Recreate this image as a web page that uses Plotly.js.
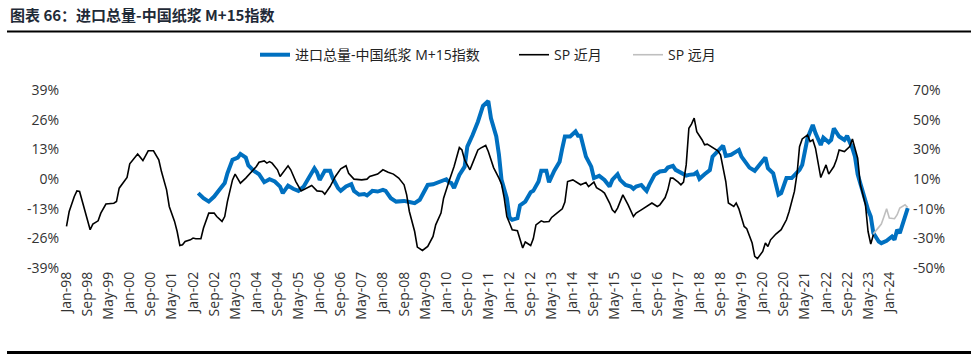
<!DOCTYPE html>
<html>
<head>
<meta charset="utf-8">
<script src="https://cdn.plot.ly/plotly-3.0.1.min.js"></script>
<style>html,body{margin:0;padding:0;background:#fff;}#chart{width:971px;height:362px;}</style>
</head>
<body>
<div id="chart"></div>
<script>
// ---- Data ----
const importDates = ['2002-03','2002-05','2002-07','2002-09','2002-11','2003-01','2003-02','2003-04','2003-06','2003-07','2003-09','2003-10','2003-12','2004-02','2004-04','2004-06','2004-08','2004-10','2004-11','2005-01','2005-03','2005-05','2005-07','2005-09','2005-11','2005-12','2006-01','2006-03','2006-05','2006-06','2006-08','2006-09','2006-11','2007-01','2007-02','2007-04','2007-06','2007-07','2007-09','2007-11','2008-01','2008-02','2008-04','2008-06','2008-08','2008-09','2008-11','2009-01','2009-03','2009-05','2009-06','2009-08','2009-10','2009-11','2010-01','2010-02','2010-03','2010-04','2010-06','2010-08','2010-09','2010-11','2011-01','2011-03','2011-05','2011-06','2011-07','2011-08','2011-09','2011-10','2011-12','2012-01','2012-02','2012-04','2012-05','2012-07','2012-09','2012-10','2012-12','2013-01','2013-03','2013-04','2013-06','2013-08','2013-09','2013-10','2013-12','2014-02','2014-03','2014-04','2014-06','2014-08','2014-09','2014-11','2015-01','2015-03','2015-04','2015-06','2015-07','2015-09','2015-11','2015-12','2016-01','2016-03','2016-04','2016-05','2016-06','2016-08','2016-10','2016-12','2017-01','2017-03','2017-04','2017-06','2017-08','2017-09','2017-11','2017-12','2018-01','2018-03','2018-05','2018-06','2018-08','2018-10','2018-11','2019-01','2019-03','2019-04','2019-05','2019-07','2019-08','2019-10','2019-12','2020-02','2020-03','2020-05','2020-07','2020-08','2020-10','2020-12','2021-02','2021-03','2021-04','2021-06','2021-08','2021-09','2021-11','2021-12','2022-02','2022-03','2022-04','2022-06','2022-08','2022-09','2022-11','2022-12','2023-01','2023-03','2023-05','2023-06','2023-07','2023-09','2023-10','2023-12','2024-02','2024-03','2024-04','2024-05','2024-07','2024-08'];
const importValues = [-6.2,-8.4,-9.9,-7.7,-4.75,-1.8,2.5,8.4,9.4,11.0,9.4,5.9,3.6,2.1,-1.4,-0.1,-1.1,-3.3,-6.2,-2.9,-4.3,-5.2,-3.3,0.4,4.7,2.9,-0.4,3.6,3.6,0.4,-4.0,-5.2,-3.3,-2.3,-5.2,-6.9,-6.6,-7.2,-5.2,-5.5,-4.75,-5.2,-8.4,-9.9,-9.9,-9.6,-10.1,-10.6,-9.1,-4.75,-2.6,-2.3,-1.4,-0.8,-0.1,-1.4,-1.8,-4.0,1.8,5.4,14.2,19.3,25.1,32.0,34.2,26.6,22.9,18.6,10.6,-0.4,-8.4,-16.9,-17.9,-17.2,-11.6,-9.9,-5.8,-5.2,-1.1,3.6,3.6,-1.4,3.6,7.6,13.5,18.6,18.6,20.8,19.0,19.0,9.8,5.4,0.4,1.4,-0.4,-3.3,-0.4,2.1,-0.4,-2.6,-3.3,-4.3,-3.3,-2.6,-4.0,-5.2,-2.6,1.8,3.3,3.6,5.0,5.75,4.0,2.9,1.5,1.8,2.1,2.9,0.1,2.1,3.9,9.8,12.0,14.6,10.1,10.6,12.0,12.75,9.8,6.2,5.0,3.6,6.5,9.4,4.7,2.5,-6.9,-6.2,0.4,0.4,2.9,4.0,6.2,17.9,23.7,20.1,14.9,18.1,16.1,17.1,22.2,18.6,17.1,18.9,13.5,9.8,2.1,-6.2,-13.5,-16.4,-23.7,-27.4,-28.1,-27.1,-25.2,-26.6,-22.25,-23.7,-17.1,-12.8];

const spNearDates = ['1998-01','1998-02','1998-04','1998-05','1998-06','1998-07','1998-08','1998-09','1998-10','1998-11','1999-01','1999-02','1999-04','1999-07','1999-08','1999-09','1999-10','1999-12','2000-01','2000-03','2000-04','2000-06','2000-08','2000-10','2000-12','2001-01','2001-03','2001-04','2001-06','2001-07','2001-08','2001-09','2001-10','2001-12','2002-01','2002-02','2002-04','2002-05','2002-07','2002-09','2002-10','2002-12','2003-01','2003-02','2003-04','2003-05','2003-06','2003-07','2003-09','2003-11','2004-01','2004-02','2004-04','2004-05','2004-06','2004-07','2004-09','2004-10','2004-12','2005-01','2005-02','2005-04','2005-06','2005-08','2005-10','2005-12','2006-02','2006-03','2006-05','2006-07','2006-09','2006-11','2006-12','2007-02','2007-05','2007-07','2007-08','2007-11','2008-01','2008-03','2008-05','2008-07','2008-09','2008-10','2008-11','2009-01','2009-02','2009-04','2009-06','2009-08','2009-09','2009-11','2009-12','2010-02','2010-04','2010-06','2010-07','2010-08','2010-10','2010-11','2011-01','2011-02','2011-04','2011-05','2011-06','2011-07','2011-09','2011-10','2011-11','2011-12','2012-01','2012-02','2012-04','2012-05','2012-06','2012-07','2012-09','2012-10','2012-11','2013-01','2013-02','2013-04','2013-05','2013-07','2013-09','2013-10','2013-11','2014-01','2014-03','2014-04','2014-06','2014-07','2014-09','2014-10','2014-12','2015-01','2015-03','2015-04','2015-05','2015-06','2015-08','2015-10','2015-12','2016-01','2016-03','2016-05','2016-07','2016-09','2016-10','2016-12','2017-01','2017-02','2017-03','2017-05','2017-06','2017-07','2017-08','2017-09','2017-10','2017-11','2017-12','2018-02','2018-03','2018-04','2018-06','2018-08','2018-09','2018-10','2018-11','2018-12','2019-02','2019-03','2019-04','2019-06','2019-07','2019-09','2019-10','2019-11','2020-01','2020-02','2020-03','2020-04','2020-06','2020-08','2020-09','2020-10','2020-11','2021-01','2021-02','2021-03','2021-04','2021-06','2021-07','2021-08','2021-09','2021-10','2021-11','2022-01','2022-02','2022-04','2022-05','2022-06','2022-08','2022-10','2022-11','2023-01','2023-02','2023-04','2023-05','2023-06','2023-07'];
const spNearValues = [-22.0,-11.9,-1.8,2.0,1.6,-5.2,-10.8,-17.5,-24.2,-20.4,-18.2,-13.0,-6.9,-6.3,-5.2,3.8,6.1,11.0,20.2,25.1,26.9,22.4,29.0,29.0,22.9,15.0,2.7,-8.5,-18.6,-25.4,-34.8,-34.3,-32.1,-31.0,-29.8,-30.3,-30.3,-23.1,-13.0,-13.0,-15.3,-18.6,-15.3,-5.2,9.4,13.3,10.6,7.2,10.6,14.6,18.4,21.3,22.2,20.7,21.7,20.7,16.2,11.7,16.8,18.9,16.2,8.3,2.0,3.8,5.6,2.0,1.6,-0.2,4.9,11.7,16.8,18.9,13.9,9.9,9.4,9.9,11.7,13.3,16.2,14.6,13.3,10.6,6.1,-0.7,-11.9,-25.4,-35.9,-38.2,-35.5,-28.7,-20.9,-13.0,-2.9,8.3,18.4,31.2,29.6,22.9,16.2,20.7,29.6,30.8,32.6,28.5,22.9,17.7,10.6,6.5,-2.9,-15.3,-19.7,-24.2,-24.9,-31.0,-36.5,-32.5,-34.8,-30.3,-20.9,-18.2,-19.0,-18.6,-15.9,-13.0,-10.1,-5.6,8.3,9.4,7.6,6.1,7.6,4.9,7.9,4.2,2.0,0.5,-6.2,-10.8,-12.6,-9.6,-0.7,-7.4,-15.3,-13.0,-10.8,-8.5,-6.2,-8.5,-7.4,-2.5,2.7,10.6,10.6,7.9,6.1,7.9,19.5,44.2,47.0,51.0,41.9,36.3,33.0,33.5,31.2,29.0,26.3,17.3,8.3,-6.2,-8.5,-6.2,-10.1,-22.0,-23.5,-33.2,-42.2,-43.7,-38.8,-33.2,-35.5,-31.0,-27.1,-24.2,-20.4,-17.5,-11.9,1.6,13.9,31.8,37.0,39.7,35.2,36.4,30.8,21.7,11.0,19.5,13.3,18.4,22.9,29.6,28.5,31.8,37.0,24.0,6.1,-7.4,-25.4,-33.8,-27.6];

const spFarDates = ['2023-07','2023-09','2023-10','2023-11','2023-12','2024-01','2024-03','2024-04','2024-05','2024-07','2024-08'];
const spFarValues = [-27.0,-22.0,-20.4,-15.3,-10.1,-16.3,-16.8,-14.1,-9.6,-7.4,-9.2];

const seriesNames = ['进口总量-中国纸浆 M+15指数', 'SP 近月', 'SP 远月'];
const xTickVals = ['1998-01','1998-09','1999-05','2000-01','2000-09','2001-05','2002-01','2002-09','2003-05','2004-01','2004-09','2005-05','2006-01','2006-09','2007-05','2008-01','2008-09','2009-05','2010-01','2010-09','2011-05','2012-01','2012-09','2013-05','2014-01','2014-09','2015-05','2016-01','2016-09','2017-05','2018-01','2018-09','2019-05','2020-01','2020-09','2021-05','2022-01','2022-09','2023-05','2024-01'];
const xTickText = ['Jan-98','Sep-98','May-99','Jan-00','Sep-00','May-01','Jan-02','Sep-02','May-03','Jan-04','Sep-04','May-05','Jan-06','Sep-06','May-07','Jan-08','Sep-08','May-09','Jan-10','Sep-10','May-11','Jan-12','Sep-12','May-13','Jan-14','Sep-14','May-15','Jan-16','Sep-16','May-17','Jan-18','Sep-18','May-19','Jan-20','Sep-20','May-21','Jan-22','Sep-22','May-23','Jan-24'];
const leftTickVals = [-39,-26,-13,0,13,26,39];
const leftTickText = ['-39%','-26%','-13%','0%','13%','26%','39%'];
const rightTickVals = [-50,-30,-10,10,30,50,70];
const rightTickText = ['-50%','-30%','-10%','10%','30%','50%','70%'];
const chartTitle = '图表 66：进口总量-中国纸浆 M+15指数';

const tickFont = {family: 'Open Sans, Noto Sans CJK SC, sans-serif', size: 14, color: '#333333'};
const legendFont = {family: 'Open Sans, Noto Sans CJK SC, sans-serif', size: 14, color: '#222222'};
const plotL = 60, plotW = 852;
function px2paper(px) { return (px - plotL) / plotW; }

const traces = [
  {x: importDates, y: importValues, name: seriesNames[0], type: 'scatter', mode: 'lines',
   line: {color: '#0070C0', width: 4}, yaxis: 'y', legend: 'legend'},
  {x: spNearDates, y: spNearValues, name: seriesNames[1], type: 'scatter', mode: 'lines',
   line: {color: '#000000', width: 1.6}, yaxis: 'y2', legend: 'legend2'},
  {x: spFarDates, y: spFarValues, name: seriesNames[2], type: 'scatter', mode: 'lines',
   line: {color: '#BFBFBF', width: 1.6}, yaxis: 'y2', legend: 'legend3'}
];

function legendAt(px) {
  return {orientation: 'h', x: px2paper(px), xanchor: 'left', y: 1.196, yanchor: 'middle',
          font: legendFont, bgcolor: 'rgba(0,0,0,0)', borderwidth: 0, itemwidth: 30};
}

const layout = {
  width: 971, height: 362,
  margin: {l: 60, r: 59, t: 90, b: 94, pad: 0},
  paper_bgcolor: '#ffffff', plot_bgcolor: '#ffffff',
  showlegend: true,
  title: {text: chartTitle, x: 10/971, xref: 'container', xanchor: 'left',
          y: 1 - 15.5/362, yref: 'container', yanchor: 'middle',
          font: {family: 'Noto Sans CJK SC, sans-serif', size: 15, color: '#1f2a37', weight: 'bold'}},
  legend: legendAt(255),
  legend2: legendAt(514),
  legend3: legendAt(628),
  xaxis: {type: 'date', range: ['1997-10-18', '2024-09-19'], tickvals: xTickVals, ticktext: xTickText,
          tickangle: -90, showgrid: false, zeroline: false, showline: false,
          ticks: '', tickfont: tickFont},
  yaxis: {range: [-39, 39], tickvals: leftTickVals, ticktext: leftTickText, showgrid: false,
          zeroline: false, showline: false, ticks: '', tickfont: tickFont},
  yaxis2: {range: [-50, 70], tickvals: rightTickVals, ticktext: rightTickText, overlaying: 'y',
           side: 'right', showgrid: false, zeroline: false, showline: false, ticks: '', tickfont: tickFont},
  shapes: [
    {type: 'line', xref: 'paper', yref: 'paper', x0: -0.0622, x1: 1.07, y0: 1.328, y1: 1.328,
     line: {color: '#000000', width: 2}},
    {type: 'line', xref: 'paper', yref: 'paper', x0: -0.0622, x1: 1.07, y0: -0.475, y1: -0.475,
     line: {color: '#000000', width: 3}}
  ]
};

Plotly.newPlot('chart', traces, layout, {displayModeBar: false, staticPlot: true});
</script>
</body>
</html>
